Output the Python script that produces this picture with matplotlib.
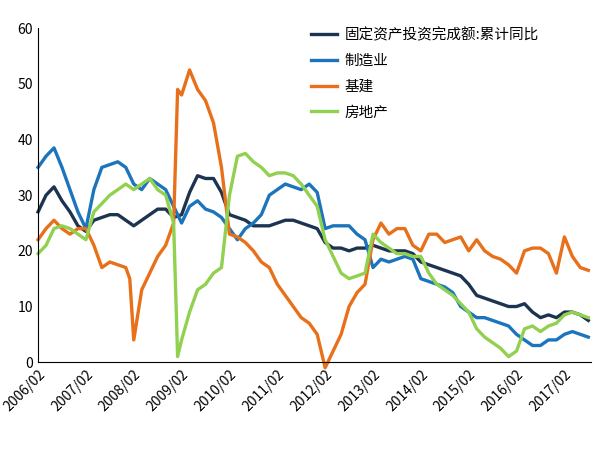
import matplotlib
matplotlib.use("Agg")
import matplotlib.pyplot as plt
import numpy as np

plt.rcParams["font.family"] = ["Noto Sans CJK SC", "DejaVu Sans"]

def months(lst):
    return [int(s[:4]) + (int(s[5:]) - 1) / 12 for s in lst]

std = [f"{y}/{m:02d}" for y in range(2006, 2018) for m in (2, 4, 6, 8, 10, 12)]
std = std[:std.index("2017/08") + 1]

total_dates = std
total_vals = [27, 30, 31.5, 29, 27, 24.5, 23.5, 25.5, 26, 26.5, 26.5, 25.5,
              24.5, 25.5, 26.5, 27.5, 27.5, 26, 26.5, 30.5, 33.5, 33, 33, 30.5,
              26.5, 26, 25.5, 24.5, 24.5, 24.5, 25, 25.5, 25.5, 25, 24.5, 24,
              21.5, 20.5, 20.5, 20, 20.5, 20.5, 21, 20.5, 20, 20, 20, 19.5,
              18, 17.5, 17, 16.5, 16, 15.5, 14, 12, 11.5, 11, 10.5, 10,
              10, 10.5, 9, 8, 8.5, 8, 9, 9, 8.5, 7.5]

mfg_dates = std
mfg_vals = [35, 37, 38.5, 35, 31, 27, 24, 31, 35, 35.5, 36, 35,
            32, 31, 33, 32, 31, 28, 25, 28, 29, 27.5, 27, 26,
            24, 22, 24, 25, 26.5, 30, 31, 32, 31.5, 31, 32, 30.5,
            24, 24.5, 24.5, 24.5, 23, 22, 17, 18.5, 18, 18.5, 19, 18.5,
            15, 14.5, 14, 13.5, 12.5, 10, 9, 8, 8, 7.5, 7, 6.5,
            5, 4, 3, 3, 4, 4, 5, 5.5, 5, 4.5]

infra_dates = std[:12] + ["2008/01", "2008/02", "2008/04", "2008/06", "2008/08", "2008/10", "2008/12",
                          "2009/01"] + std[18:]
infra_vals = [22, 24, 25.5, 24, 23, 24, 24, 21, 17, 18, 17.5, 17,
              15, 4, 13, 16, 19, 21, 25, 49,
              48, 52.5, 49, 47, 43, 35,
              23, 22.5, 21.5, 20, 18, 17, 14, 12, 10, 8, 7, 5,
              -1, 2, 5, 10, 12.5, 14, 22, 25, 23, 24, 24, 21,
              20, 23, 23, 21.5, 22, 22.5, 20, 22, 20, 19, 18.5, 17.5,
              16, 20, 20.5, 20.5, 19.5, 16, 22.5, 19, 17, 16.5]

re_dates = std[:18] + ["2009/01"] + std[18:]
re_vals = [19.5, 21, 24, 24.5, 24, 23, 22, 27, 28.5, 30, 31, 32,
           31, 32, 33, 31, 30, 25, 1, 4, 9, 13, 14, 16, 17,
           30, 37, 37.5, 36, 35, 33.5, 34, 34, 33.5, 32, 30, 28,
           22, 19, 16, 15, 15.5, 16, 23, 21.5, 20.5, 19.5, 19.5, 19,
           19, 16, 14, 13, 12, 10.5, 9, 6, 4.5, 3.5, 2.5, 1,
           2, 6, 6.5, 5.5, 6.5, 7, 8.5, 9, 8.5, 8]

xtick_labels = [f"{y}/02" for y in range(2006, 2018)]

fig = plt.figure(figsize=(6.04, 4.55), dpi=100)
ax = fig.add_axes([0.063, 0.204, 0.915, 0.734])
lw = 2.4
ax.plot(months(total_dates), total_vals, color="#1d3451", lw=lw, label="固定资产投资完成额:累计同比", clip_on=False)
ax.plot(months(mfg_dates), mfg_vals, color="#1c75bc", lw=lw, label="制造业", clip_on=False)
ax.plot(months(infra_dates), infra_vals, color="#e8701a", lw=lw, label="基建", clip_on=False)
ax.plot(months(re_dates), re_vals, color="#92d050", lw=lw, label="房地产", clip_on=False)

ax.set_ylim(0, 60)
ax.set_yticks(range(0, 61, 10))
ax.set_xlim(months(["2006/02"])[0], months(["2017/08"])[0] + 0.05)
ax.set_xticks(months(xtick_labels))
ax.set_xticklabels(xtick_labels, rotation=45, ha="right", rotation_mode="anchor", fontsize=10)
ax.tick_params(axis="y", labelsize=10, length=0)
ax.tick_params(axis="x", length=0)
for s in ("top", "right"):
    ax.spines[s].set_visible(False)
ax.legend(loc="upper left", bbox_to_anchor=(0.47, 1.04), frameon=False, fontsize=10.5,
          handlelength=1.8, labelspacing=0.8, handletextpad=0.5)
fig.savefig("out.png", dpi=100)
